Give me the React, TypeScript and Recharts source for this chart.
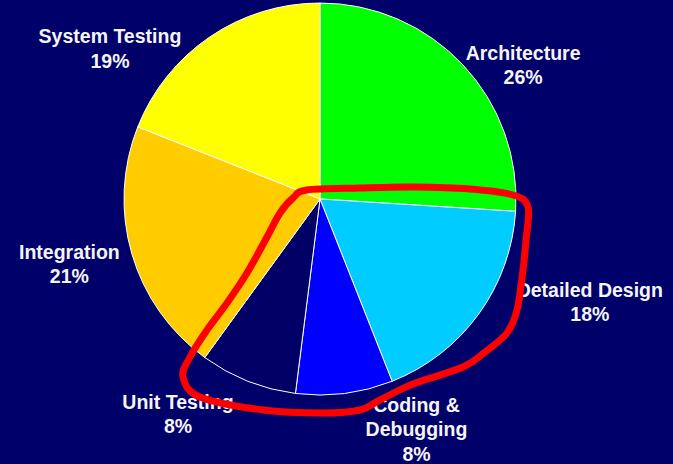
import React from 'react';
import { PieChart, Pie, Cell } from 'recharts';

// effort split per development phase (percent)
const STAGES = ['Architecture', 'Detailed Design', 'Coding & Debugging', 'Unit Testing', 'Integration', 'System Testing'];
const SHARES = [26, 18, 8, 8, 21, 19];

const COLORS = ['#00ff00', '#00ccff', '#0000ff', '#000066', '#ffcc00', '#ffff00'];
const BG = '#00006a';

// label placement: angle nudge from slice middle (deg, clockwise) and distance from centre
const LABEL_NUDGE = [9.9, -15, -15.5, 11.8, 1.6, -20.3];
const LABEL_DIST = [243, 289, 250, 258, 259, 258];

// hand-drawn highlight loop around the lower slices
const LOOP = [
  [307, 190], [360, 188], [413, 187], [470, 189], [513, 195], [528, 207], [526, 240], [523, 270],
  [517, 310], [507, 333], [485, 352], [463, 367], [413, 384], [380, 400], [360, 410], [323, 413],
  [263, 410], [200, 397], [183, 377], [190, 357], [207, 330], [227, 303], [247, 273], [267, 237],
  [280, 213], [293, 198],
];

const data = STAGES.map((name, i) => ({ name, value: SHARES[i] }));

const RAD = Math.PI / 180;

const smoothPath = (pts: number[][]) => {
  const n = pts.length;
  let d = `M${pts[0][0]},${pts[0][1]}`;
  for (let i = 0; i < n; i++) {
    const p0 = pts[(i - 1 + n) % n];
    const p1 = pts[i];
    const p2 = pts[(i + 1) % n];
    const p3 = pts[(i + 2) % n];
    const c1x = p1[0] + (p2[0] - p0[0]) / 6;
    const c1y = p1[1] + (p2[1] - p0[1]) / 6;
    const c2x = p2[0] - (p3[0] - p1[0]) / 6;
    const c2y = p2[1] - (p3[1] - p1[1]) / 6;
    d += ` C${c1x},${c1y} ${c2x},${c2y} ${p2[0]},${p2[1]}`;
  }
  return d + 'Z';
};

const renderLabel = (props: any) => {
  const { cx, cy, midAngle, index } = props;
  const theta = (90 - midAngle + LABEL_NUDGE[index]) * RAD;
  const r = LABEL_DIST[index];
  const x = cx + r * Math.sin(theta);
  const y = cy - r * Math.cos(theta);
  const lines = STAGES[index].replace('& ', '&\n').split('\n').concat(`${SHARES[index]}%`);
  const lh = 24.5;
  const y0 = y - ((lines.length - 1) * lh) / 2 + 6.5;
  return (
    <text
      key={`lbl-${index}`}
      x={x}
      y={y0}
      textAnchor="middle"
      fill="#f5f5f5"
      fontFamily="'Liberation Sans', Arial, sans-serif"
      fontWeight="bold"
      fontSize={19.5}
    >
      {lines.map((t, i) => (
        <tspan key={i} x={x} y={y0 + i * lh}>{t}</tspan>
      ))}
    </text>
  );
};

export default function App() {
  return (
    <div style={{ position: 'absolute', left: 0, top: 0, width: 673, height: 464, background: BG, overflow: 'hidden' }}>
      <PieChart width={673} height={464} margin={{ top: 0, right: 0, bottom: 0, left: 0 }}>
        <Pie
          data={data}
          dataKey="value"
          nameKey="name"
          cx={320}
          cy={199}
          outerRadius={196}
          startAngle={90}
          endAngle={-270}
          stroke="#ffffff"
          strokeWidth={1}
          label={renderLabel}
          labelLine={false}
          isAnimationActive={false}
        >
          {data.map((d, i) => (
            <Cell key={d.name} fill={COLORS[i]} />
          ))}
        </Pie>
      </PieChart>
      <svg width={673} height={464} style={{ position: 'absolute', left: 0, top: 0, pointerEvents: 'none' }}>
        <path d={smoothPath(LOOP)} fill="none" stroke="#ff0000" strokeWidth={7} strokeLinejoin="round" />
      </svg>
    </div>
  );
}
